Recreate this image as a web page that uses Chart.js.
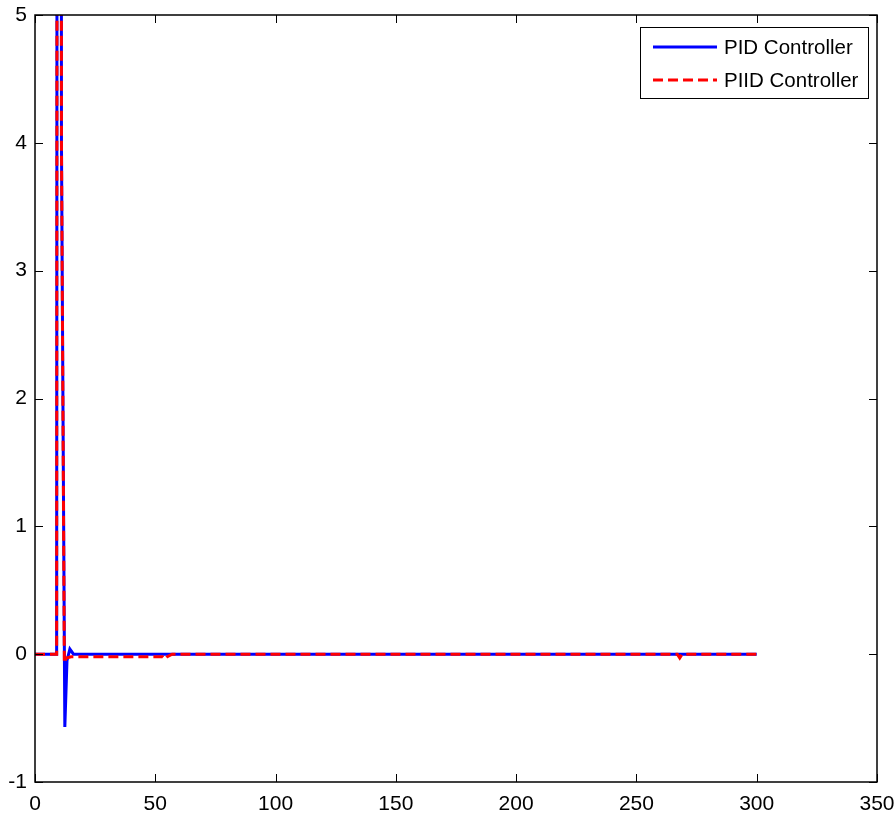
<!DOCTYPE html>
<html>
<head>
<meta charset="utf-8">
<script src="https://cdn.jsdelivr.net/npm/chart.js@4.4.1/dist/chart.umd.min.js"></script>
<style>
  html, body { margin: 0; padding: 0; background: #fff; }
  #wrap { width: 896px; height: 815px; }
</style>
</head>
<body>
<div id="wrap"><canvas id="myChart" width="896" height="815"></canvas></div>
<script>
// values
var xTicks = [0, 50, 100, 150, 200, 250, 300, 350];
var yTicks = [-1, 0, 1, 2, 3, 4, 5];

var pidX = [0, 9, 10, 11, 12.4, 13.3, 14.5, 16, 300];
var pidY = [0, 0, 40, 4, -0.57, -0.05, 0.04, 0, 0];

var piidX = [0, 9, 10, 11, 12.2, 13, 15, 53, 54, 55, 57, 267, 268, 269, 300];
var piidY = [0, 0, 40, 4, -0.07, -0.03, -0.02, -0.02, -0.04, -0.02, 0, 0, -0.03, 0, 0];

var names = ["PID Controller", "PIID Controller"];
var colors = ["#0000ff", "#ff0000"];

function toPoints(xs, ys) {
  return xs.map((x, i) => ({ x: x, y: ys[i] }));
}

// box + inside tick marks like matlab, and the legend box
const matlabBox = {
  id: 'matlabBox',
  afterDraw(chart) {
    const ctx = chart.ctx;
    const a = chart.chartArea;
    const xs = chart.scales.x, ys = chart.scales.y;
    ctx.save();
    ctx.strokeStyle = '#000';
    ctx.lineWidth = 1;
    ctx.beginPath();
    xTicks.forEach(v => {
      const p = Math.round(xs.getPixelForValue(v)) + 0.5;
      ctx.moveTo(p, a.bottom); ctx.lineTo(p, a.bottom - 8);
      ctx.moveTo(p, a.top); ctx.lineTo(p, a.top + 8);
    });
    yTicks.forEach(v => {
      const p = Math.round(ys.getPixelForValue(v)) + 0.5;
      ctx.moveTo(a.left, p); ctx.lineTo(a.left + 8, p);
      ctx.moveTo(a.right, p); ctx.lineTo(a.right - 8, p);
    });
    ctx.stroke();
    ctx.lineWidth = 1.5;
    ctx.strokeRect(a.left, a.top, a.right - a.left, a.bottom - a.top);

    // legend
    const lx = 640, ly = 27, lw = 228, lh = 71;
    ctx.fillStyle = '#fff';
    ctx.fillRect(lx, ly, lw, lh);
    ctx.lineWidth = 1;
    ctx.strokeRect(lx + 0.5, ly + 0.5, lw, lh);
    ctx.font = '20.5px "Liberation Sans", Arial, sans-serif';
    ctx.textBaseline = 'middle';
    names.forEach((name, i) => {
      const ds = chart.data.datasets[i];
      const yy = ly + 20 + i * 33;
      ctx.beginPath();
      ctx.strokeStyle = ds.borderColor;
      ctx.lineWidth = 3;
      ctx.setLineDash(ds.borderDash || []);
      ctx.moveTo(653, yy); ctx.lineTo(717, yy);
      ctx.stroke();
      ctx.setLineDash([]);
      ctx.fillStyle = '#000';
      ctx.fillText(name, 724, yy + 1);
    });
    ctx.restore();
  }
};

new Chart("myChart", {
  type: "scatter",
  data: {
    datasets: [{
      label: names[0],
      data: toPoints(pidX, pidY),
      showLine: true,
      borderColor: colors[0],
      borderWidth: 3,
      pointRadius: 0,
      tension: 0,
      order: 1
    }, {
      label: names[1],
      data: toPoints(piidX, piidY),
      showLine: true,
      borderColor: colors[1],
      borderWidth: 3,
      borderDash: [10, 5],
      pointRadius: 0,
      tension: 0,
      order: 0
    }]
  },
  options: {
    responsive: false,
    animation: false,
    layout: { padding: { top: 15, right: 19, left: 0, bottom: 0 } },
    plugins: {
      legend: { display: false },
      tooltip: { enabled: false }
    },
    scales: {
      x: {
        type: 'linear',
        min: 0, max: 350,
        afterBuildTicks: s => { s.ticks = xTicks.map(v => ({ value: v })); },
        afterFit: s => { s.height = 33; s.paddingLeft = 0; s.paddingRight = 0; },
        grid: { display: false, drawTicks: false },
        border: { display: false },
        ticks: { color: '#000', font: { family: '"Liberation Sans", Arial', size: 21 }, padding: 10, maxRotation: 0 }
      },
      y: {
        type: 'linear',
        min: -1, max: 5,
        afterBuildTicks: s => { s.ticks = yTicks.map(v => ({ value: v })); },
        afterFit: s => { s.width = 35; s.paddingTop = 0; s.paddingBottom = 0; },
        grid: { display: false, drawTicks: false },
        border: { display: false },
        ticks: { color: '#000', font: { family: '"Liberation Sans", Arial', size: 21 }, padding: 8 }
      }
    }
  },
  plugins: [matlabBox]
});
</script>
</body>
</html>
